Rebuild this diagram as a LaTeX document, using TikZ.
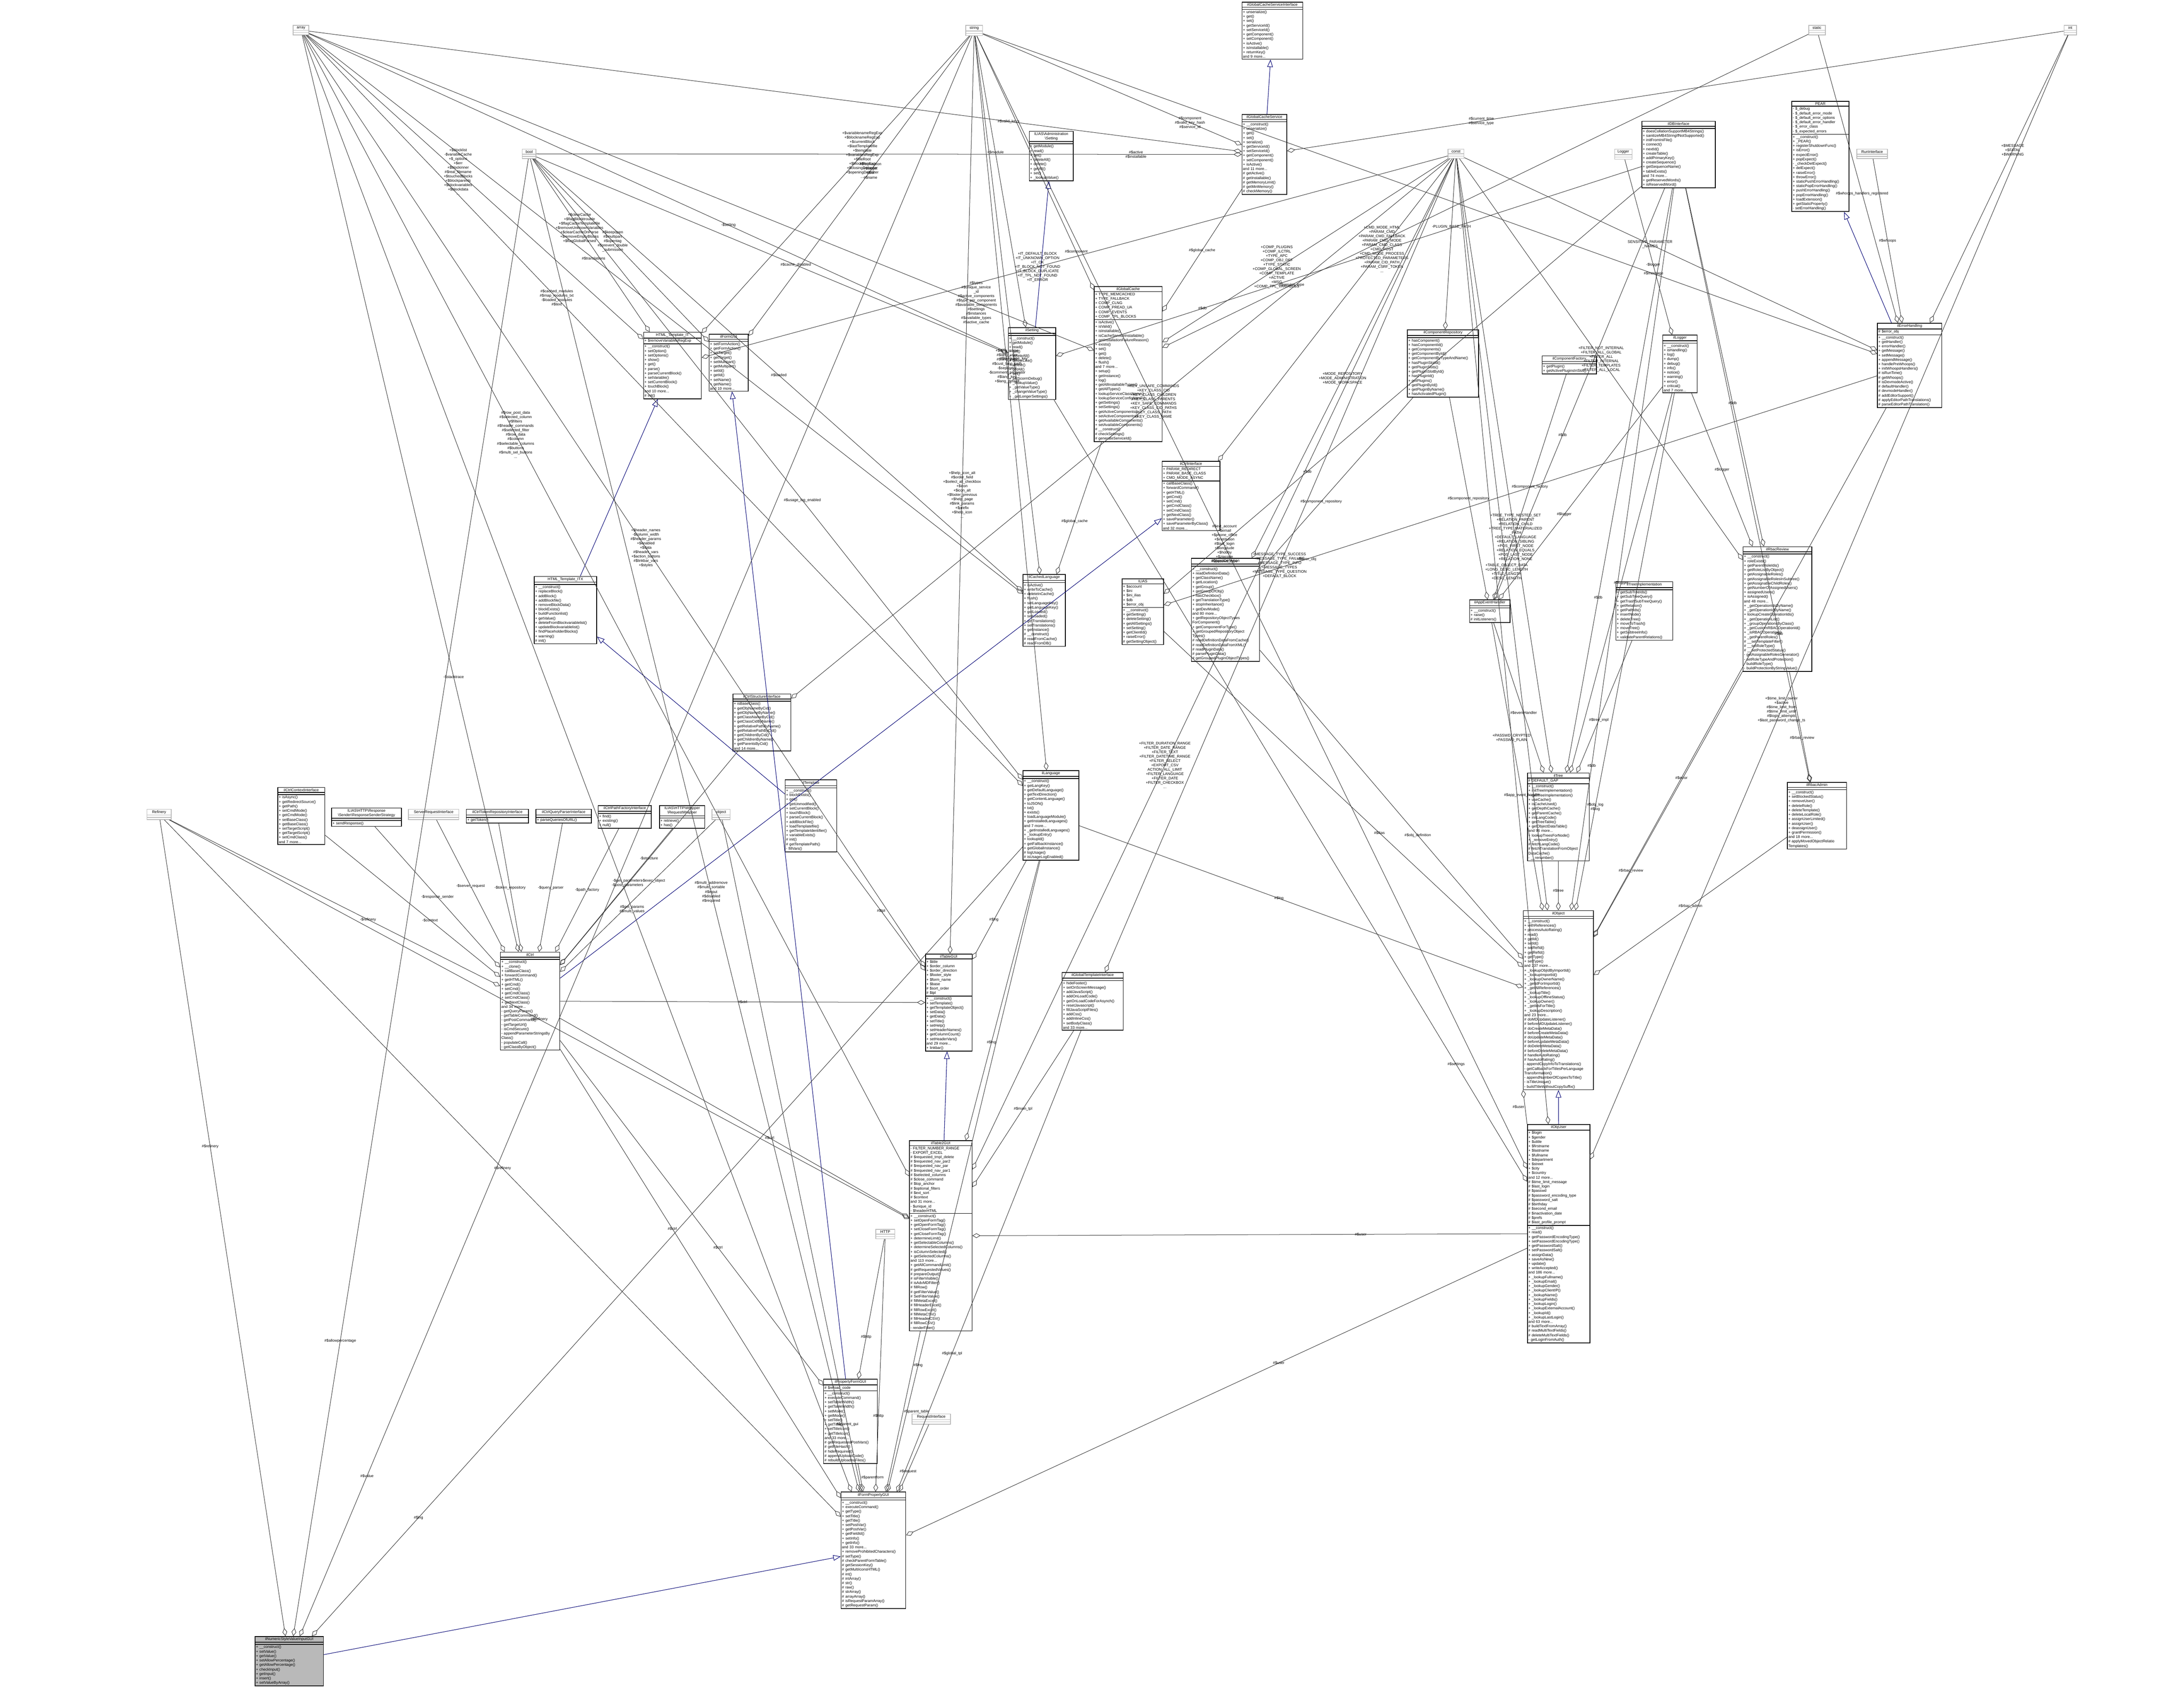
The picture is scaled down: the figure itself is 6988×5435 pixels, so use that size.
\documentclass[tikz,border=0pt]{standalone}
\usepackage{fontspec}
\setmainfont{Liberation Sans}
\usetikzlibrary{shapes.multipart,arrows.meta}
\newcommand\cf{\fontsize{1.2}{1.43}\selectfont}
\newcommand\lf{\fontsize{1.2}{1.4}\selectfont}
\tikzset{
 cls/.style={rectangle split, rectangle split parts=3, draw=black, line width=0.22pt, anchor=north west,
   inner xsep=0.3pt, inner ysep=0.25pt, font=\cf, align=left, rectangle split empty part height=1.6pt, fill=white},
 ecls/.style={cls, draw=gray!55},
 agg/.style={draw=black!80, line width=0.14pt, -{Diamond[open,length=2.6pt,width=1.5pt]}},
 inh/.style={draw=blue!45!black, line width=0.15pt, -{Triangle[open,length=2.4pt,width=1.8pt]}},
 lab/.style={font=\lf, align=center, inner sep=0.2pt}
}
\begin{document}
\catcode`\_=12 \catcode`\$=12 \catcode`\#=12
\begin{tikzpicture}[x=0.1pt,y=-0.1pt]
\useasboundingbox (0,0) rectangle (6988,5435);
% ---------- small empty boxes
\node[ecls,text width=4.4pt] (array) at (937,80) {\nodepart{one}\centering array\par\nodepart{two}\nodepart{three}};
\node[ecls,text width=4.8pt] (string) at (3089,80) {\nodepart{one}\centering string\par\nodepart{two}\nodepart{three}};
\node[ecls,text width=4.7pt] (static) at (5786,80) {\nodepart{one}\centering static\par\nodepart{two}\nodepart{three}};
\node[ecls,text width=3.4pt] (int) at (6603,80) {\nodepart{one}\centering int\par\nodepart{two}\nodepart{three}};
\node[ecls,text width=3.8pt] (bool) at (1670,476) {\nodepart{one}\centering bool\par\nodepart{two}\nodepart{three}};
\node[ecls,text width=4.5pt] (const) at (4632,476) {\nodepart{one}\centering const\par\nodepart{two}\nodepart{three}};
\node[ecls,text width=5pt] (Logger) at (5165,476) {\nodepart{one}\centering Logger\par\nodepart{two}\nodepart{three}};
\node[ecls,text width=9.2pt] (RunInterface) at (5940,476) {\nodepart{one}\centering RunInterface\par\nodepart{two}\nodepart{three}};
\node[ecls,text width=7.2pt] (Refinery) at (469,2588) {\nodepart{one}\centering Refinery\par\nodepart{two}\nodepart{three}};
\node[ecls,text width=15.5pt] (ServerRequestInterface) at (1306,2588) {\nodepart{one}\centering ServerRequestInterface\par\nodepart{two}\nodepart{three}};
\node[ecls,text width=5.2pt] (object) at (2277,2588) {\nodepart{one}\centering object\par\nodepart{two}\nodepart{three}};
\node[ecls,text width=5.5pt] (HTTP) at (2801,3932) {\nodepart{one}\centering HTTP\par\nodepart{two}\nodepart{three}};
\node[ecls,text width=11.7pt] (RequestInterface) at (2917,4522) {\nodepart{one}\centering RequestInterface\par\nodepart{two}\nodepart{three}};
% ---------- classes
\node[cls,text width=18.8pt] (GCSI) at (3973,6) {\nodepart{one}\centering ilGlobalCacheServiceInterface\par\nodepart{two}\nodepart{three}
+ unserialize()\\+ get()\\+ set()\\+ getServiceId()\\+ setServiceId()\\+ getComponent()\\+ setComponent()\\+ isActive()\\+ isInstallable()\\+ returnKey()\\and 9 more...};
\node[cls,text width=13.7pt] (GCS) at (3973,365) {\nodepart{one}\centering ilGlobalCacheService\par\nodepart{two}\nodepart{three}
+ __construct()\\+ unserialize()\\+ get()\\+ set()\\+ serialize()\\+ getServiceId()\\+ setServiceId()\\+ getComponent()\\+ setComponent()\\+ isActive()\\and 11 more...\\# getActive()\\# getInstallable()\\# getMemoryLimit()\\# getMinMemory()\\# checkMemory()};
\node[cls,text width=13.5pt] (AdmSetting) at (3292,419) {\nodepart{one}\centering ILIAS\textbackslash Administration\\\textbackslash Setting\par\nodepart{two}\nodepart{three}
+ getModule()\\+ read()\\+ get()\\+ deleteAll()\\+ delete()\\+ getAll()\\+ set()\\+ _lookupValue()};
\node[cls,text width=22.9pt] (DBI) at (5252,387) {\nodepart{one}\centering ilDBInterface\par\nodepart{two}\nodepart{three}
+ doesCollationSupportMB4Strings()\\+ sanitizeMB4StringIfNotSupported()\\+ initFromIniFile()\\+ connect()\\+ nextId()\\+ createTable()\\+ addPrimaryKey()\\+ createSequence()\\+ getSequenceName()\\+ tableExists()\\and 74 more...\\+ getReservedWords()\\+ isReservedWord()};
\node[cls,text width=17.7pt] (PEAR) at (5732,323) {\nodepart{one}\centering PEAR\par\nodepart{two}
- $_debug\\- $_default_error_mode\\- $_default_error_options\\- $_default_error_handler\\- $_error_class\\- $_expected_errors\nodepart{three}
+ __construct()\\+ _PEAR()\\+ registerShutdownFunc()\\+ isError()\\+ expectError()\\+ popExpect()\\- _checkDelExpect()\\+ delExpect()\\+ raiseError()\\+ throwError()\\+ staticPushErrorHandling()\\+ staticPopErrorHandling()\\+ pushErrorHandling()\\+ popErrorHandling()\\+ loadExtension()\\+ getStaticProperty()\\- setErrorHandling()};
\node[cls,text width=21.1pt] (GC) at (3500,916) {\nodepart{one}\centering ilGlobalCache\par\nodepart{two}
+ TYPE_MEMCACHED\\+ TYPE_FALLBACK\\+ COMP_CLNG\\+ COMP_PREAD_UA\\+ COMP_EVENTS\\+ COMP_TPL_BLOCKS\nodepart{three}
+ isActive()\\+ isValid()\\+ isInstallable()\\+ isCacheServiceInstallable()\\+ getInstallationFailureReason()\\+ exists()\\+ set()\\+ get()\\+ delete()\\+ flush()\\and 7 more...\\+ setup()\\+ getInstance()\\+ log()\\+ getAllInstallableTypes()\\+ getAllTypes()\\+ lookupServiceClassName()\\+ lookupServiceConfigName()\\+ getSettings()\\+ setSettings()\\+ getActiveComponents()\\+ setActiveComponents()\\+ getAvailableComponents()\\+ setAvailableComponents()\\# __construct()\\# checkSettings()\\# generateServiceId()};
\node[cls,text width=22.2pt] (CompRepo) at (4502,1054) {\nodepart{one}\centering ilComponentRepository\par\nodepart{two}\nodepart{three}
+ hasComponent()\\+ hasComponentId()\\+ getComponents()\\+ getComponentById()\\+ getComponentByTypeAndName()\\+ hasPluginSlotId()\\+ getPluginSlots()\\+ getPluginSlotById()\\+ hasPluginId()\\+ getPlugins()\\+ getPluginById()\\+ getPluginByName()\\+ hasActivatedPlugin()};
\node[cls,text width=16.8pt] (CompFac) at (4933,1137) {\nodepart{one}\centering ilComponentFactory\par\nodepart{two}\nodepart{three}
+ getPlugin()\\+ getActivePluginsInSlot()};
\node[cls,text width=10.4pt] (ilLogger) at (5319,1071) {\nodepart{one}\centering ilLogger\par\nodepart{two}\nodepart{three}
+ __construct()\\+ isHandling()\\+ log()\\+ dump()\\+ debug()\\+ info()\\+ notice()\\+ warning()\\+ error()\\+ critical()\\and 7 more...};
\node[cls,text width=20pt] (ErrH) at (6006,1033) {\nodepart{one}\centering ilErrorHandling\par\nodepart{two}
# $error_obj\nodepart{three}
+ __construct()\\+ getHandler()\\+ errorHandler()\\+ getMessage()\\+ setMessage()\\+ appendMessage()\\+ handlePreWhoops()\\+ initWhoopsHandlers()\\# isRunTime()\\# getWhoops()\\# isDevmodeActive()\\# defaultHandler()\\# devmodeHandler()\\# addEditorSupport()\\# applyEditorPathTranslations()\\# parseEditorPathTranslation()};
\node[cls,text width=17.9pt] (CtrlI) at (3717,1475) {\nodepart{one}\centering ilCtrlInterface\par\nodepart{two}
+ PARAM_REDIRECT\\+ PARAM_BASE_CLASS\\+ CMD_MODE_ASYNC\nodepart{three}
+ callBaseClass()\\+ forwardCommand()\\+ getHTML()\\+ getCmd()\\+ setCmd()\\+ getCmdClass()\\+ setCmdClass()\\+ getNextClass()\\+ saveParameter()\\+ saveParameterByClass()\\and 32 more...};
\node[cls,text width=17.9pt] (HTMLIT) at (2058,1062) {\nodepart{one}\centering HTML_Template_IT\par\nodepart{two}
+ $removeVariablesRegExp\nodepart{three}
+ __construct()\\+ setOption()\\+ setOptions()\\+ show()\\+ get()\\+ parse()\\+ parseCurrentBlock()\\+ setVariable()\\+ setCurrentBlock()\\+ touchBlock()\\and 10 more...\\# init()};
\node[cls,text width=11.9pt] (FormGUI) at (2268,1068) {\nodepart{one}\centering ilFormGUI\par\nodepart{two}\nodepart{three}
+ setFormAction()\\+ getFormAction()\\+ setTarget()\\+ getTarget()\\+ setMultipart()\\+ getMultipart()\\+ setId()\\+ getId()\\+ setName()\\+ getName()\\and 10 more...};
\node[cls,text width=14.6pt] (Setting) at (3225,1047) {\nodepart{one}\centering ilSetting\par\nodepart{two}\nodepart{three}
+ __construct()\\+ getModule()\\+ read()\\+ get()\\+ deleteAll()\\+ deleteLike()\\+ delete()\\+ getAll()\\+ set()\\+ setScormDebug()\\+ _lookupValue()\\+ _getValueType()\\+ _changeValueType()\\+ _getLongerSettings()};
\node[cls,text width=21.2pt] (ObjDef) at (3811,1785) {\nodepart{one}\centering ilObjectDefinition\par\nodepart{two}\nodepart{three}
+ __construct()\\+ readDefinitionData()\\+ getClassName()\\+ getLocation()\\+ getGroup()\\+ getGroupOfObj()\\+ hasCheckbox()\\+ getTranslationType()\\+ stopInheritance()\\+ getDevMode()\\and 80 more...\\+ getRepositoryObjectTypes\\ForComponent()\\+ getComponentForType()\\+ getGroupedRepositoryObject\\Types()\\# readDefinitionDataFromCache()\\# readDefinitionDataFromXML()\\# readPluginData()\\# parsePluginData()\\# getGroupedPluginObjectTypes()};
\node[cls,text width=12.7pt] (ILIAS) at (3589,1851) {\nodepart{one}\centering ILIAS\par\nodepart{two}
+ $account\\+ $ini\\+ $ini_ilias\\+ $db\\+ $error_obj\nodepart{three}
+ __construct()\\+ getSetting()\\+ deleteSetting()\\+ getAllSettings()\\+ setSetting()\\+ getClientId()\\+ raiseError()\\# getSettingObject()};
\node[cls,text width=12.3pt] (AppEv) at (4701,1918) {\nodepart{one}\centering ilAppEventHandler\par\nodepart{two}\nodepart{three}
+ __construct()\\+ raise()\\# initListeners()};
\node[cls,text width=17.6pt] (TreeImpl) at (5169,1860) {\nodepart{one}\centering ilTreeImplementation\par\nodepart{two}\nodepart{three}
+ getSubTreeIds()\\+ getSubTreeQuery()\\+ getTrashSubTreeQuery()\\+ getRelation()\\+ getPathIds()\\+ insertNode()\\+ deleteTree()\\+ moveToTrash()\\+ moveTree()\\+ getSubtreeInfo()\\+ validateParentRelations()};
\node[cls,text width=21.4pt] (RbacRev) at (5576,1748) {\nodepart{one}\centering ilRbacReview\par\nodepart{two}\nodepart{three}
+ __construct()\\+ roleExists()\\+ getParentRoleIds()\\+ getRoleListByObject()\\+ getAssignableRoles()\\+ getAssignableRolesInSubtree()\\+ getAssignableChildRoles()\\+ getNumberOfAssignedUsers()\\+ assignedUsers()\\+ isAssigned()\\and 48 more...\\+ _getOperationIdsByName()\\+ _getOperationIdByName()\\+ lookupCreateOperationIds()\\+ _getOperationList()\\+ _groupOperationsByClass()\\+ _getCustomRBACOperationId()\\+ _isRBACOperation()\\+ _getParentRoles()\\# __setTemplateFilter()\\# __setRoleType()\\# __setProtectedStatus()\\- getAssignableRolesGenerator()\\- setRoleTypeAndProtection()\\- buildRoleType()\\- buildProtectionByStringValue()};
\node[cls,text width=19.2pt] (Tree) at (4886,2472) {\nodepart{one}\centering ilTree\par\nodepart{two}
# DEFAULT_GAP\nodepart{three}
+ __construct()\\+ initTreeImplementation()\\+ getTreeImplementation()\\+ useCache()\\+ isCacheUsed()\\+ getDepthCache()\\+ getParentCache()\\+ initLangCode()\\+ getTreeTable()\\+ getObjectDataTable()\\and 96 more...\\+ lookupTreesForNode()\\+ _removeEntry()\\# fetchLangCode()\\# fetchTranslationFromObject\\DataCache()\\- __renumber()};
\node[cls,text width=18.3pt] (RbacAdm) at (5718,2502) {\nodepart{one}\centering ilRbacAdmin\par\nodepart{two}\nodepart{three}
+ __construct()\\+ setBlockedStatus()\\+ removeUser()\\+ deleteRole()\\+ deleteTemplate()\\+ deleteLocalRole()\\+ assignUserLimited()\\+ assignUser()\\+ deassignUser()\\+ grantPermission()\\and 18 more...\\# applyMovedObjectRelatio\\Templates()};
\node[cls,text width=21.8pt] (Obj) at (4873,2912) {\nodepart{one}\centering ilObject\par\nodepart{two}\nodepart{three}
+ __construct()\\+ withReferences()\\+ processAutoRating()\\+ read()\\+ getId()\\+ setId()\\+ setRefId()\\+ getRefId()\\+ getType()\\+ setType()\\and 237 more...\\+ _lookupObjIdByImportId()\\+ _lookupImportId()\\+ _lookupOwnerName()\\+ _getIdForImportId()\\+ _getAllReferences()\\+ _lookupTitle()\\+ _lookupOfflineStatus()\\+ _lookupOwner()\\+ _getIdsForTitle()\\+ _lookupDescription()\\and 23 more...\\# doMDUpdateListener()\\# beforeMDUpdateListener()\\# doCreateMetaData()\\# beforeCreateMetaData()\\# doUpdateMetaData()\\# beforeUpdateMetaData()\\# doDeleteMetaData()\\# beforeDeleteMetaData()\\# handleAutoRating()\\# hasAutoRating()\\- appendCopyInfoToTranslations()\\- getCallbackForTitlesPerLanguage\\Transformation()\\- appendNumberOfCopiesToTitle()\\- isTitleUnique()\\- buildTitleWithoutCopySuffix()};
\node[cls,text width=19.4pt] (ObjUser) at (4886,3596) {\nodepart{one}\centering ilObjUser\par\nodepart{two}
+ $login\\+ $gender\\+ $utitle\\+ $firstname\\+ $lastname\\+ $fullname\\+ $department\\+ $street\\+ $city\\+ $country\\and 12 more...\\# $time_limit_message\\# $last_login\\# $passwd\\# $password_encoding_type\\# $password_salt\\# $birthday\\# $second_email\\# $inactivation_date\\# $prefs\\# $last_profile_prompt\nodepart{three}
+ __construct()\\+ read()\\+ getPasswordEncodingType()\\+ setPasswordEncodingType()\\+ getPasswordSalt()\\+ setPasswordSalt()\\+ assignData()\\+ saveAsNew()\\+ update()\\+ writeAccepted()\\and 186 more...\\+ _lookupFullname()\\+ _lookupEmail()\\+ _lookupGender()\\+ _lookupClientIP()\\+ _lookupName()\\+ _lookupFields()\\+ _lookupLogin()\\+ _lookupExternalAccount()\\+ _lookupId()\\+ _lookupLastLogin()\\and 63 more...\\# buildTextFromArray()\\# readMultiTextFields()\\# deleteMultiTextFields()\\- getLoginFromAuth()};
\node[cls,text width=19.4pt] (HTMLITX) at (1708,1843) {\nodepart{one}\centering HTML_Template_ITX\par\nodepart{two}\nodepart{three}
+ __construct()\\+ replaceBlock()\\+ addBlock()\\+ addBlockfile()\\+ removeBlockData()\\+ blockExists()\\+ buildFunctionlist()\\+ getValue()\\+ deleteFromBlockvariablelist()\\+ updateBlockvariablelist()\\+ findPlaceholderBlocks()\\+ warning()\\# init()};
\node[cls,text width=13pt] (CLang) at (3272,1837) {\nodepart{one}\centering ilCachedLanguage\par\nodepart{two}\nodepart{three}
+ isActive()\\+ writeToCache()\\+ deleteInCache()\\+ flush()\\+ setLanguageKey()\\+ getLanguageKey()\\+ getLoaded()\\+ setLoaded()\\+ getTranslations()\\+ setTranslations()\\+ getInstance()\\# __construct()\\# readFromCache()\\# readFromDB()};
\node[cls,text width=17.9pt] (CtrlStruct) at (2344,2219) {\nodepart{one}\centering ilCtrlStructureInterface\par\nodepart{two}\nodepart{three}
+ isBaseClass()\\+ getObjNameByCid()\\+ getObjNameByName()\\+ getClassNameByCid()\\+ getClassCidByName()\\+ getRelativePathByName()\\+ getRelativePathByCid()\\+ getChildrenByCid()\\+ getChildrenByName()\\+ getParentsByCid()\\and 14 more...};
\node[cls,text width=15.9pt] (Tpl) at (2511,2494) {\nodepart{one}\centering ilTemplate\par\nodepart{two}\nodepart{three}
+ __construct()\\+ blockExists()\\+ get()\\+ getUnmodified()\\+ setCurrentBlock()\\+ touchBlock()\\+ parseCurrentBlock()\\+ addBlockFile()\\+ loadTemplatefile()\\+ getTemplateIdentifier()\\+ variableExists()\\# init()\\# getTemplatePath()\\- fillVars()};
\node[cls,text width=17.3pt] (Lang) at (3272,2464) {\nodepart{one}\centering ilLanguage\par\nodepart{two}\nodepart{three}
+ __construct()\\+ getLangKey()\\+ getDefaultLanguage()\\+ getTextDirection()\\+ getContentLanguage()\\+ toJSON()\\+ txt()\\+ exists()\\+ loadLanguageModule()\\+ getInstalledLanguages()\\and 7 more...\\+ _getInstalledLanguages()\\+ _lookupEntry()\\+ lookupId()\\+ getFallbackInstance()\\+ getGlobalInstance()\\# logUsage()\\# isUsageLogEnabled()};
\node[cls,text width=14.4pt] (CtrlCtx) at (888,2518) {\nodepart{one}\centering ilCtrlContextInterface\par\nodepart{two}\nodepart{three}
+ isAsync()\\+ getRedirectSource()\\+ getPath()\\+ setCmdMode()\\+ getCmdMode()\\+ setBaseClass()\\+ getBaseClass()\\+ setTargetScript()\\+ getTargetScript()\\+ setCmdClass()\\and 7 more...};
\node[cls,text width=21.7pt] (RespSend) at (1060,2584) {\nodepart{one}\centering ILIAS\textbackslash HTTP\textbackslash Response\\\textbackslash Sender\textbackslash ResponseSenderStrategy\par\nodepart{two}\nodepart{three}
+ sendResponse()};
\node[cls,text width=19.3pt] (TokRepo) at (1491,2588) {\nodepart{one}\centering ilCtrlTokenRepositoryInterface\par\nodepart{two}\nodepart{three}
+ getToken()};
\node[cls,text width=17.1pt] (QParse) at (1714,2588) {\nodepart{one}\centering ilCtrlQueryParserInterface\par\nodepart{two}\nodepart{three}
+ parseQueriesOfURL()};
\node[cls,text width=16.4pt] (PathFac) at (1913,2576) {\nodepart{one}\centering ilCtrlPathFactoryInterface\par\nodepart{two}\nodepart{three}
+ find()\\+ existing()\\+ null()};
\node[cls,text width=13.9pt] (ReqWrap) at (2109,2576) {\nodepart{one}\centering ILIAS\textbackslash HTTP\textbackslash Wrapper\\\textbackslash RequestWrapper\par\nodepart{two}\nodepart{three}
+ retrieve()\\+ has()};
\node[cls,text width=18.4pt] (Ctrl) at (1600,3045) {\nodepart{one}\centering ilCtrl\par\nodepart{two}\nodepart{three}
+ __construct()\\+ __clone()\\+ callBaseClass()\\+ forwardCommand()\\+ getHTML()\\+ getCmd()\\+ setCmd()\\+ getCmdClass()\\+ setCmdClass()\\+ getNextClass()\\and 34 more...\\- getQueryParam()\\- getTableCommand()\\- getPostCommand()\\- getTargetUrl()\\- isCmdSecure()\\- appendParameterStringsBy\\Class()\\- populateCall()\\- getClassByObject()};
\node[cls,text width=14.3pt] (TableGUI) at (2960,3051) {\nodepart{one}\centering ilTableGUI\par\nodepart{two}
+ $title\\+ $order_column\\+ $order_direction\\+ $footer_style\\+ $form_name\\+ $base\\# $sort_order\\# $tpl\nodepart{three}
+ __construct()\\+ setTemplate()\\+ getTemplateObject()\\+ setData()\\+ getData()\\+ setTitle()\\+ setHelp()\\+ setHeaderNames()\\+ getColumnCount()\\+ setHeaderVars()\\and 29 more...\\+ linkbar()};
\node[cls,text width=19pt] (GTI) at (3397,3110) {\nodepart{one}\centering ilGlobalTemplateInterface\par\nodepart{two}\nodepart{three}
+ hideFooter()\\+ setOnScreenMessage()\\+ addJavaScript()\\+ addOnLoadCode()\\+ getOnLoadCodeForAsynch()\\+ resetJavascript()\\+ fillJavaScriptFiles()\\+ addCss()\\+ addInlineCss()\\+ setBodyClass()\\and 33 more...};
\node[cls,text width=19.4pt] (T2GUI) at (2909,3648) {\nodepart{one}\centering ilTable2GUI\par\nodepart{two}
- FILTER_NUMBER_RANGE\\- EXPORT_EXCEL\\# $requested_tmpl_delete\\# $requested_nav_par2\\# $requested_nav_par\\# $requested_nav_par1\\# $selected_columns\\# $close_command\\# $top_anchor\\# $optional_filters\\# $ext_sort\\# $context\\and 31 more...\\- $unique_id\\- $headerHTML\nodepart{three}
+ __construct()\\+ setOpenFormTag()\\+ getOpenFormTag()\\+ setCloseFormTag()\\+ getCloseFormTag()\\+ determineLimit()\\+ getSelectableColumns()\\+ determineSelectedColumns()\\+ isColumnSelected()\\+ getSelectedColumns()\\and 113 more...\\+ getAllCommandLimit()\\# getRequestedValues()\\# prepareOutput()\\# isFilterVisible()\\# isAdvMDFilter()\\# fillRow()\\# getFilterValue()\\# SetFilterValue()\\# fillMetaExcel()\\# fillHeaderExcel()\\# fillRowExcel()\\# fillMetaCSV()\\# fillHeaderCSV()\\# fillRowCSV()\\- renderFilter()};
\node[cls,text width=16.6pt] (PFGUI) at (2634,4411) {\nodepart{one}\centering ilPropertyFormGUI\par\nodepart{two}
# $reload_code\nodepart{three}
+ __construct()\\+ executeCommand()\\+ setTableWidth()\\+ getTableWidth()\\+ setMode()\\+ getMode()\\+ setTitle()\\+ getTitle()\\+ setTitleIcon()\\+ getTitleIcon()\\and 33 more...\\# getRequestedPostVars()\\# getFileHash()\\# hideRequired()\\# appendUploadCode()\\# rebuildUploadedFiles()};
\node[cls,text width=20.1pt] (FPGUI) at (2690,4772) {\nodepart{one}\centering ilFormPropertyGUI\par\nodepart{two}\nodepart{three}
+ __construct()\\+ executeCommand()\\+ getType()\\+ setTitle()\\+ getTitle()\\+ setPostVar()\\+ getPostVar()\\+ getFieldId()\\+ setInfo()\\+ getInfo()\\and 33 more...\\+ removeProhibitedCharacters()\\# setType()\\# checkParentFormTable()\\# getSessionKey()\\# getMultiIconsHTML()\\# int()\\# intArray()\\# str()\\# raw()\\# strArray()\\# arrayArray()\\# isRequestParamArray()\\# getRequestParam()};
\node[cls,text width=21.3pt,fill=gray!55] (NSV) at (815,5234) {\nodepart{one}\centering ilNumericStyleValueInputGUI\par\nodepart{two}\nodepart{three}
+ __construct()\\+ setValue()\\+ getValue()\\+ setAllowPercentage()\\+ getAllowPercentage()\\+ checkInput()\\+ getInput()\\+ insert()\\+ setValueByArray()};
% ---------- inheritance
\draw[inh] (GCS) -- (GCSI);
\draw[inh] (Setting) -- (AdmSetting);
\draw[inh] (ErrH) -- (PEAR);
\draw[inh] (Ctrl) -- (CtrlI);
\draw[inh] (HTMLITX) -- (HTMLIT);
\draw[inh] (Tpl) -- (HTMLITX);
\draw[inh] (PFGUI) -- (FormGUI);
\draw[inh] (T2GUI) -- (TableGUI);
\draw[inh] (ObjUser) -- (Obj);
\draw[inh] (NSV) -- (FPGUI);
% ---------- aggregation
\draw[agg] (array) -- node[lab,pos=0.75]{#$valid_keys} (GCS);
\draw[agg] (string) -- node[lab,pos=0.8]{#$component\\#$valid_key_hash\\#$service_id} (GCS);
\draw[agg] (bool) -- node[lab,pos=0.85]{#$active\\#$installable} (GCS);
\draw[agg] (int) -- node[lab,pos=0.75]{#$current_time\\#$service_type} (GCS);
\draw[agg] (array) -- node[lab,pos=0.85]{#$types\\#$unique_service\\_id\\#$active_components\\#$type_per_component\\#$available_components\\#$settings\\#$instances\\#$available_types\\#$active_cache} (GC);
\draw[agg] (GCS) -- node[lab]{#$global_cache} (GC);
\draw[agg] (string) -- node[lab,pos=0.85]{#$component} (GC);
\draw[agg] (static) -- node[lab,pos=0.8]{#$service_type} (GC);
\draw[agg] (const) -- node[lab,pos=0.6]{+COMP_PLUGINS\\+COMP_ILCTRL\\+TYPE_APC\\+COMP_OBJ_DEF\\+TYPE_STATIC\\+COMP_GLOBAL_SCREEN\\+COMP_TEMPLATE\\+ACTIVE\\+MSG\\+COMP_TPL_VARIABLES\\...} (GC);
\draw[agg] (const) -- node[lab,pos=0.3]{+CMD_MODE_HTML\\+PARAM_CMD\\+PARAM_CMD_FALLBACK\\+PARAM_CMD_MODE\\+PARAM_CMD_CLASS\\+CMD_POST\\+CMD_MODE_PROCESS\\+PROTECTED_PARAMETERS\\+PARAM_CID_PATH\\+PARAM_CSRF_TOKEN\\...} (CtrlI);
\draw[agg] (const) -- node[lab,pos=0.45]{+KEY_UNSAFE_COMMANDS\\+KEY_CLASS_CID\\+KEY_CLASS_CHILDREN\\+KEY_CLASS_PARENTS\\+KEY_SAFE_COMMANDS\\+KEY_CLASS_CID_PATHS\\+KEY_CLASS_PATH\\+KEY_CLASS_NAME} (CtrlStruct);
\draw[agg] (const) -- node[lab,pos=0.55]{+MODE_REPOSITORY\\+MODE_ADMINISTRATION\\+MODE_WORKSPACE} (ObjDef);
\draw[agg] (const) -- node[lab,pos=0.4]{-PLUGIN_BASE_PATH} (CompRepo);
\draw[agg] (const) -- node[lab,pos=0.45]{SENSITIVE_PARAMETER\\_NAMES} (ErrH);
\draw[agg] (const) -- node[lab,pos=0.62]{+TREE_TYPE_NESTED_SET\\+RELATION_PARENT\\+RELATION_CHILD\\+TREE_TYPE_MATERIALIZED\\_PATH\\+DEFAULT_LANGUAGE\\+RELATION_SIBLING\\+POS_FIRST_NODE\\+RELATION_EQUALS\\+POS_LAST_NODE\\+RELATION_NONE\\...} (Tree);
\draw[agg] (const) -- node[lab,pos=0.5]{+FILTER_NOT_INTERNAL\\+FILTER_ALL_GLOBAL\\+FILTER_ALL\\+FILTER_INTERNAL\\+FILTER_TEMPLATES\\+FILTER_ALL_LOCAL} (RbacRev);
\draw[agg] (const) -- node[lab,pos=0.6]{+FILTER_DURATION_RANGE\\+FILTER_DATE_RANGE\\+FILTER_TEXT\\+FILTER_DATETIME_RANGE\\+FILTER_SELECT\\+EXPORT_CSV\\ACTION_ALL_LIMIT\\+FILTER_LANGUAGE\\+FILTER_DATE\\+FILTER_CHECKBOX\\...} (T2GUI);
\draw[agg] (const) -- node[lab,pos=0.5]{+MESSAGE_TYPE_SUCCESS\\+MESSAGE_TYPE_FAILURE\\+MESSAGE_TYPE_INFO\\+MESSAGE_TYPES\\+MESSAGE_TYPE_QUESTION\\+DEFAULT_BLOCK} (GTI);
\draw[agg] (const) -- node[lab,pos=0.55]{+TABLE_OBJECT_DATA\\+LONG_DESC_LENGTH\\+TITLE_LENGTH\\+DESC_LENGTH} (Obj);
\draw[agg] (const) -- node[lab,pos=0.6]{+PASSWD_CRYPTED\\+PASSWD_PLAIN} (ObjUser);
\draw[agg] (const) -- node[lab,pos=0.55]{+IT_DEFAULT_BLOCK\\+IT_UNKNOWN_OPTION\\+IT_OK\\+IT_BLOCK_NOT_FOUND\\+IT_BLOCK_DUPLICATE\\+IT_TPL_NOT_FOUND\\+IT_ERROR} (HTMLIT);
\draw[agg] (array) -- node[lab,pos=0.45]{+$blocklist\\-$variableCache\\+$_options\\+$err\\+$blockinner\\#$real_filename\\+$touchedBlocks\\+$blockparents\\+$blockvariables\\+$blockdata\\...} (HTMLIT);
\draw[agg] (string) -- node[lab,pos=0.4]{+$variablenameRegExp\\+$blocknameRegExp\\+$currentBlock\\+$lastTemplatefile\\+$template\\+$variablesRegExp\\+$fileRoot\\+$blockRegExp\\+$closingDelimiter\\+$openingDelimiter\\...} (HTMLIT);
\draw[agg] (bool) -- node[lab,pos=0.4]{+$clearCache\\+$flagBlocktrouble\\+$flagCacheTemplatefile\\+$removeUnknownVariables\\+$clearCacheOnParse\\+$removeEmptyBlocks\\+$flagGlobalParsed} (HTMLIT);
\draw[agg] (bool) -- node[lab,pos=0.45]{#$keepopen\\#$multipart\\#$opentag\\#$prevent_double\\_submission} (FormGUI);
\draw[agg] (string) -- node[lab,pos=0.45]{#$formaction\\#$target\\#$id\\#$name} (FormGUI);
\draw[agg] (string) -- node[lab,pos=0.4]{+$module} (Setting);
\draw[agg] (array) -- node[lab,pos=0.6]{-$setting} (Setting);
\draw[agg] (bool) -- node[lab,pos=0.55]{#$cache_disabled} (Setting);
\draw[agg] (string) -- node[lab,pos=0.6]{#$language_key} (CLang);
\draw[agg] (array) -- node[lab,pos=0.4]{#$translations} (CLang);
\draw[agg] (bool) -- node[lab,pos=0.5]{#$loaded} (CLang);
\draw[agg] (GC) -- node[lab,pos=0.6]{#$global_cache} (CLang);
\draw[agg] (string) -- node[lab,pos=0.45]{+$lang_name\\#$lang_user\\#$lang_path\\#$cust_lang_path\\-$separator\\-$comment_separator\\#$lang_key\\+$lang_default} (Lang);
\draw[agg] (array) -- node[lab,pos=0.35]{#$cached_modules\\#$map_modules_txt\\-$loaded_modules\\#$text} (Lang);
\draw[agg] (bool) -- node[lab,pos=0.55]{#$usage_log_enabled} (Lang);
\draw[agg] (int) -- node[lab,pos=0.4]{+$MESSAGE\\+$FATAL\\+$WARNING} (ErrH);
\draw[agg] (static) -- node[lab,pos=0.55]{#$whoops_handlers_registered} (ErrH);
\draw[agg] (string) -- node[lab,pos=0.75]{#$message} (ErrH);
\draw[agg] (RunInterface) -- node[lab]{#$whoops} (ErrH);
\draw[agg] (Logger) -- node[lab,pos=0.6]{-$logger} (ilLogger);
\draw[agg] (ErrH) -- node[lab,pos=0.7]{#$error} (Obj);
\draw[agg] (ErrH) -- node[lab,pos=0.8]{+$error_obj} (ILIAS);
\draw[agg] (DBI) -- node[lab,pos=0.75]{#$db} (Setting);
\draw[agg] (DBI) -- node[lab,pos=0.7]{+$db} (ILIAS);
\draw[agg] (DBI) -- node[lab,pos=0.6]{#$db} (AppEv);
\draw[agg] (DBI) -- node[lab,pos=0.7]{#$db} (Tree);
\draw[agg] (DBI) -- node[lab,pos=0.6]{#$db} (RbacRev);
\draw[agg] (DBI) -- node[lab,pos=0.75]{#$db} (RbacAdm);
\draw[agg] (DBI) -- node[lab,pos=0.8]{#$db} (Obj);
\draw[agg] (ilLogger) -- node[lab,pos=0.6]{#$logger} (AppEv);
\draw[agg] (ilLogger) -- node[lab,pos=0.5]{#$logger} (Tree);
\draw[agg] (ilLogger) -- node[lab,pos=0.5]{#$logger} (RbacRev);
\draw[agg] (ilLogger) -- node[lab,pos=0.8]{#$obj_log\\#$log} (Obj);
\draw[agg] (CompRepo) -- node[lab,pos=0.6]{#$component_repository} (ObjDef);
\draw[agg] (CompRepo) -- node[lab,pos=0.5]{#$component_repository} (AppEv);
\draw[agg] (CompFac) -- node[lab,pos=0.5]{#$component_factory} (AppEv);
\draw[agg] (TreeImpl) -- node[lab,pos=0.6]{#$tree_impl} (Tree);
\draw[agg] (AppEv) -- node[lab,pos=0.6]{#$eventHandler} (Tree);
\draw[agg] (AppEv) -- node[lab,pos=0.6]{#$app_event_handler} (Obj);
\draw[agg] (ILIAS) -- node[lab,pos=0.6]{#$ilias} (Obj);
\draw[agg] (ObjDef) -- node[lab,pos=0.6]{#$obj_definition} (Obj);
\draw[agg] (Tree) -- node[lab,pos=0.6]{#$tree} (Obj);
\draw[agg] (RbacRev) -- node[lab,pos=0.6]{#$rbac_review} (RbacAdm);
\draw[agg] (RbacRev) -- node[lab,pos=0.75]{#$rbac_review} (Obj);
\draw[agg] (RbacAdm) -- node[lab,pos=0.5]{#$rbac_admin} (Obj);
\draw[agg] (ObjUser.north west) -- node[lab,left]{#$user} (Obj.south west);
\draw[agg] (Setting) -- node[lab,pos=0.85]{#$settings} (ObjUser);
\draw[agg] (Lang) -- node[lab,pos=0.45]{#$lng} (Obj);
\draw[agg] (int) -- node[lab,pos=0.6]{+$time_limit_owner\\+$active\\#$time_limit_from\\#$time_limit_until\\#$login_attempts\\+$last_password_change_ts} (ObjUser);
\draw[agg] (string) -- node[lab,pos=0.45]{#$ext_account\\+$email\\+$phone_office\\+$institution\\#$last_login\\+$longitude\\+$hobby\\+$zipcode\\#$passwd_type\\...} (ObjUser);
\draw[agg] (CtrlCtx) -- node[lab,pos=0.6]{-$context} (Ctrl);
\draw[agg] (RespSend) -- node[lab,pos=0.5]{-$response_sender} (Ctrl);
\draw[agg] (ServerRequestInterface) -- node[lab,pos=0.5]{-$server_request} (Ctrl);
\draw[agg] (TokRepo) -- node[lab,pos=0.5]{-$token_repository} (Ctrl);
\draw[agg] (QParse) -- node[lab,pos=0.5]{-$query_parser} (Ctrl);
\draw[agg] (PathFac) -- node[lab,pos=0.5]{-$path_factory} (Ctrl);
\draw[agg] (ReqWrap) -- node[lab,pos=0.4]{-$get_parameters\\-$post_parameters} (Ctrl);
\draw[agg] (object) -- node[lab,pos=0.4]{-$exec_object} (Ctrl);
\draw[agg] (CtrlStruct) -- node[lab,pos=0.5]{-$structure} (Ctrl);
\draw[agg] (Refinery) -- node[lab,pos=0.6]{-$refinery} (Ctrl);
\draw[agg] (array) -- node[lab,pos=0.7]{-$stacktrace} (Ctrl);
\draw[agg] (Ctrl) -- node[lab,pos=0.5]{#$ctrl} (TableGUI);
\draw[agg] (Ctrl) -- node[lab,pos=0.6]{#$ctrl} (T2GUI);
\draw[agg] (Ctrl) -- node[lab,pos=0.6]{#$ctrl} (PFGUI);
\draw[agg] (Ctrl) -- node[lab,pos=0.4]{#$ctrl} (FPGUI);
\draw[agg] (Tpl) -- node[lab,pos=0.5]{#$tpl} (TableGUI);
\draw[agg] (Lang) -- node[lab,pos=0.6]{#$lng} (TableGUI);
\draw[agg] (Lang) -- node[lab,pos=0.65]{#$lng} (T2GUI);
\draw[agg] (Lang) -- node[lab,pos=0.8]{#$lng} (FPGUI);
\draw[agg] (Lang) -- node[lab,pos=0.85]{#$lng} (NSV);
\draw[agg] (GTI) -- node[lab,pos=0.5]{#$main_tpl} (T2GUI);
\draw[agg] (GTI) -- node[lab,pos=0.7]{#$global_tpl} (FPGUI);
\draw[agg] (ObjUser) -- node[lab,pos=0.4]{#$user} (FPGUI);
\draw[agg] (ObjUser) -- node[lab,pos=0.3]{#$user} (T2GUI);
\draw[agg] (HTTP) -- node[lab,pos=0.7]{#$http} (PFGUI);
\draw[agg] (HTTP) -- node[lab,pos=0.7]{#$http} (FPGUI);
\draw[agg] (RequestInterface) -- node[lab,pos=0.7]{#$request} (FPGUI);
\draw[agg] (PFGUI) -- node[lab,right]{#$parentform} (FPGUI);
\draw[agg] (T2GUI) -- node[lab,pos=0.5,right]{#$parent_table} (FPGUI);
\draw[agg] (object) -- node[lab,pos=0.9]{#$parent_gui} (FPGUI);
\draw[agg] (Refinery) -- node[lab,pos=0.5]{#$refinery} (FPGUI);
\draw[agg] (Refinery) -- node[lab,pos=0.4]{#$refinery} (NSV);
\draw[agg] (Refinery) -- node[lab,pos=0.5]{#$refinery} (T2GUI);
\draw[agg] (array) -- node[lab,pos=0.6]{#$get_params\\#$multi_values} (FPGUI);
\draw[agg] (bool) -- node[lab,pos=0.55]{#$multi_addremove\\#$multi_sortable\\#$input\\#$disabled\\#$required} (FPGUI);
\draw[agg] (string) -- node[lab,pos=0.9]{#$value} (NSV);
\draw[agg] (bool) -- node[lab,pos=0.8]{#$allowpercentage} (NSV);
\draw[agg] (array) -- node[lab,pos=0.55]{+$header_names\\-$column_width\\#$header_params\\+$enabled\\+$data\\#$header_vars\\+$action_buttons\\#$linkbar_vars\\+$styles} (TableGUI);
\draw[agg] (array) -- node[lab,pos=0.35]{#$row_post_data\\#$selected_column\\#$filters\\#$header_commands\\#$selected_filter\\#$row_data\\#$column\\#$selectable_columns\\#$buttons\\#$multi_sel_buttons\\...} (T2GUI);
\draw[agg] (string) -- node[lab,pos=0.5]{+$help_icon_alt\\#$order_field\\+$select_all_checkbox\\+$icon\\+$icon_alt\\+$footer_previous\\+$help_page\\#$link_params\\+$prefix\\+$help_icon\\...} (TableGUI);
\end{tikzpicture}
\end{document}
